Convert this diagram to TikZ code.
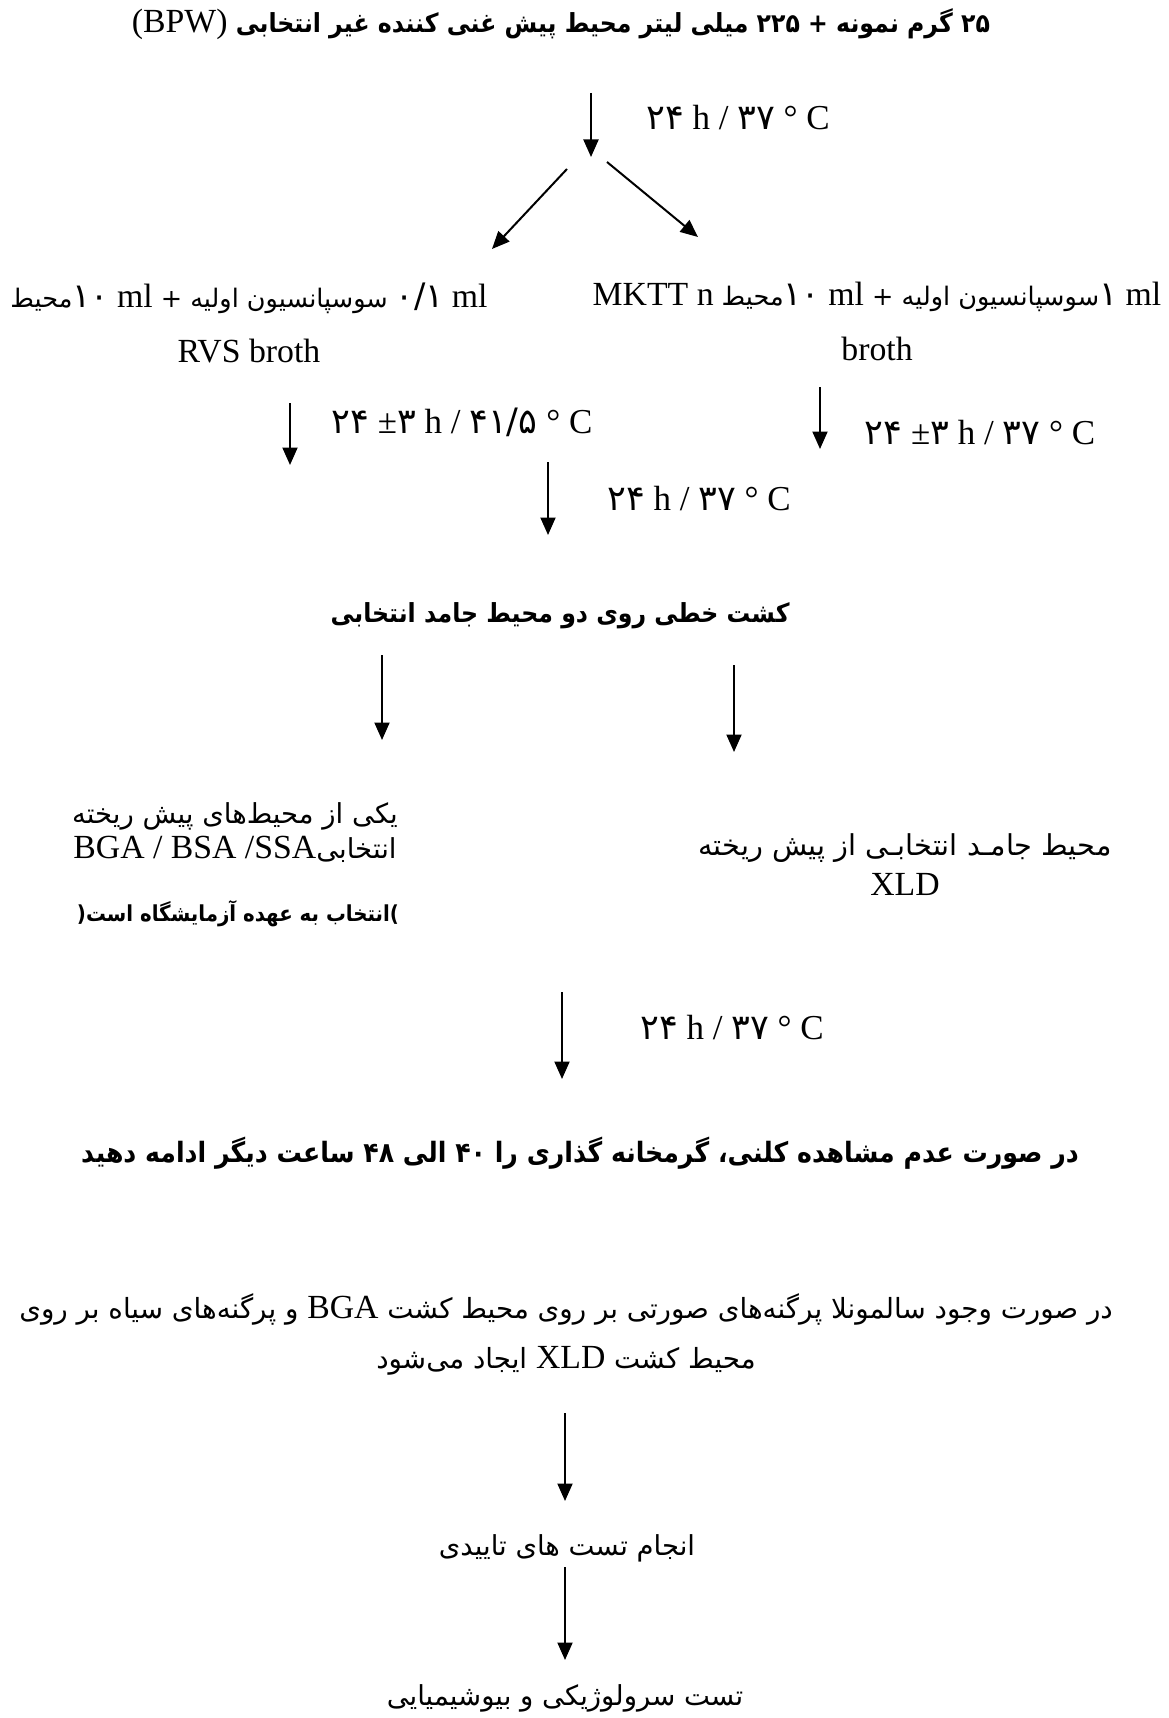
\documentclass[tikz,border=0pt]{standalone}
\usepackage{fontspec}
\setmainfont{Liberation Serif}
\newfontfamily\farsifont[Script=Arabic, BoldFeatures={FakeStretch=0.9}]{DejaVu Sans}
\TeXXeTstate=1
\usetikzlibrary{arrows.meta}
\newcommand{\fa}[1]{{\farsifont\beginR #1\endR}}
\newcommand{\la}[1]{\beginL{\normalfont\fontsize{13.5}{16}\selectfont #1}\endL}
\newcommand{\fd}[1]{{\farsifont #1}}
\tikzset{
  flow/.style={line width=0.8pt, -{Triangle[length=7pt,width=6pt]}},
  plaintext/.style={inner sep=0pt, align=center,
    font=\fontsize{11}{20}\selectfont},
  heavytext/.style={inner sep=0pt, align=center,
    font=\bfseries\fontsize{11}{20}\selectfont},
  timing/.style={inner sep=0pt, font=\fontsize{14}{16}\selectfont}
}

\begin{document}
\begin{tikzpicture}[x=0.4pt,y=-0.4pt]

  \path[use as bounding box] (0,0) rectangle (1168,1718);

  % enrichment<<<
  \node[heavytext, font=\bfseries\fontsize{10.5}{20}\selectfont] (sample) at (561,24)
    {\fa{۲۵ گرم نمونه + ۲۲۵ میلی لیتر محیط پیش غنی کننده غیر انتخابی \la{(BPW)}}};
  \node[timing] (t37a) at (738,118) {\fd{۲۴} h / \fd{۳۷} ° C};
  % >>>

  % selective broths<<<
  \node[plaintext, font=\fontsize{10.2}{20}\selectfont] (rvs) at (249,323)
    {\fa{\la{\fd{۰/۱} ml} سوسپانسیون اولیه + \la{\fd{۱۰} ml}محیط}\\[2pt]
     \la{RVS broth}};
  \node[plaintext, font=\fontsize{10.2}{20}\selectfont] (mktt) at (877,321)
    {\fa{\la{\fd{۱} ml}سوسپانسیون اولیه + \la{\fd{۱۰} ml}محیط \la{MKTT n}}\\[2pt]
     \la{broth}};
  \node[timing] (t415) at (462,422) {\fd{۲۴} ±\fd{۳} h / \fd{۴۱/۵} ° C};
  \node[timing] (t37b) at (980,433) {\fd{۲۴} ±\fd{۳} h / \fd{۳۷} ° C};
  \node[timing] (t37c) at (699,499) {\fd{۲۴} h / \fd{۳۷} ° C};
  % >>>

  % plating<<<
  \node[heavytext, font=\bfseries\fontsize{10.5}{20}\selectfont] (streak) at (560,616)
    {\fa{کشت خطی روی دو محیط جامد انتخابی}};
  \node[plaintext, font=\fontsize{11}{14}\selectfont] (bga) at (235,833)
    {\fa{یکی از محیط‌های پیش ریخته}\\
     \fa{انتخابی\la{BGA / BSA /SSA}}};
  \node[heavytext, font=\bfseries\fontsize{8.8}{10}\selectfont] (choice) at (238,914)
    {\fa{\beginL)\endL انتخاب به عهده آزمایشگاه است\beginL(\endL}};
  \node[plaintext, font=\fontsize{11.5}{16}\selectfont] (xld) at (905,865)
    {\fa{محیط جامـد انتخابـی از پیش ریخته}\\
     \la{XLD}};
  \node[timing] (t37d) at (732,1028) {\fd{۲۴} h / \fd{۳۷} ° C};
  % >>>

  % reading<<<
  \node[heavytext, font=\bfseries\fontsize{11.2}{20}\selectfont] (nocolony) at (580,1153)
    {\fa{در صورت عدم مشاهده کلنی، گرمخانه گذاری را ۴۰ الی ۴۸ ساعت دیگر ادامه دهید}};
  \node[plaintext, font=\fontsize{11.1}{20}\selectfont] (colonies) at (566,1334)
    {\fa{در صورت وجود سالمونلا پرگنه‌های صورتی بر روی محیط کشت \la{BGA} و پرگنه‌های سیاه بر روی}\\
     \fa{محیط کشت \la{XLD} ایجاد می‌شود}};
  \node[plaintext] (confirm) at (567,1548) {\fa{انجام تست های تاییدی}};
  \node[plaintext] (serology) at (565,1698) {\fa{تست سرولوژیکی و بیوشیمیایی}};
  % >>>

  % arrows
  \coordinate (s1) at (591,93);   \coordinate (e1) at (591,157);
  \coordinate (s2) at (567,169);  \coordinate (e2) at (492,249);
  \coordinate (s3) at (607,162);  \coordinate (e3) at (698,237);
  \coordinate (s4) at (290,403);  \coordinate (e4) at (290,465);
  \coordinate (s5) at (820,387);  \coordinate (e5) at (820,449);
  \coordinate (s6) at (548,462);  \coordinate (e6) at (548,535);
  \coordinate (s7) at (382,655);  \coordinate (e7) at (382,740);
  \coordinate (s8) at (734,665);  \coordinate (e8) at (734,752);
  \coordinate (s9) at (562,992);  \coordinate (e9) at (562,1079);
  \coordinate (s10) at (565,1413); \coordinate (e10) at (565,1501);
  \coordinate (s11) at (565,1567); \coordinate (e11) at (565,1660);
  \foreach \i in {1,...,11}{
    \draw[flow] (s\i) -- (e\i);
  }

\end{tikzpicture}
\end{document}
